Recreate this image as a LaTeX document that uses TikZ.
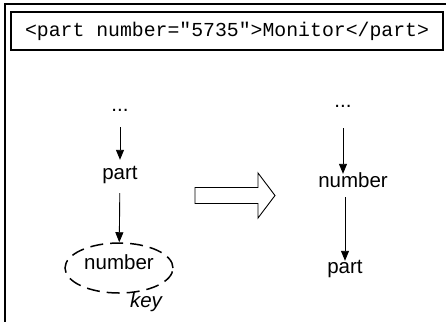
\documentclass[tikz,border=0pt]{standalone}
\usepackage{fontspec}
\setmainfont{Liberation Sans}
\setmonofont{Liberation Mono}
\usetikzlibrary{arrows.meta, shapes.geometric}

\tikzset{
  elem/.style={font=\fontsize{20.5}{24}\selectfont, text height=15pt, text depth=5pt, inner xsep=2pt, inner ysep=4pt},
  link/.style={-{Triangle[length=10pt,width=8pt]}, line width=0.9pt},
  keyring/.style={draw, ellipse, dash pattern=on 13pt off 7pt, line width=1.5pt, minimum width=108pt, minimum height=50pt, text height=10pt, text depth=8pt}
}

\begin{document}
\begin{tikzpicture}[x=1pt,y=-1pt]
\useasboundingbox (0,0) rectangle (446,322);
\draw[line width=2pt] (446,4) -- (5,4) -- (5,322);
\node[draw, line width=1.4pt, minimum width=432pt, minimum height=38pt, font=\ttfamily\fontsize{19.8}{24}\selectfont] (xml) at (227,31) {<part number="5735">Monitor</part>};

% before
\node[elem, anchor=base] (dotsL) at (120,111) {...};
\node[elem, anchor=base] (partL) at (120,179) {part};
\node[elem, keyring] (numL) at (119,268) {number};
\node[elem, anchor=base, font=\itshape\fontsize{20.5}{24}\selectfont] (keyL) at (146,307) {key};
\draw[link, shorten <=7pt] (dotsL) -- (partL);
\draw[link, shorten <=5pt] (partL) -- (numL);

% after
\node[elem, anchor=base] (dotsR) at (343,107) {...};
\node[elem, anchor=base] (numR) at (353,187) {number};
\node[elem, anchor=base] (partR) at (345,273) {part};
\draw[link, shorten <=12pt, shorten >=-6pt] (dotsR) -- (dotsR |- numR.north);
\draw[link, shorten <=1pt, shorten >=-7pt] (numR.south -| partR) -- (partR);

% hollow arrow
\draw[line width=0.9pt] (195,187.5) -- (258,187.5) -- (258,173) -- (275,195.5) -- (258,218) -- (258,203.5) -- (195,203.5) -- cycle;
\end{tikzpicture}
\end{document}
